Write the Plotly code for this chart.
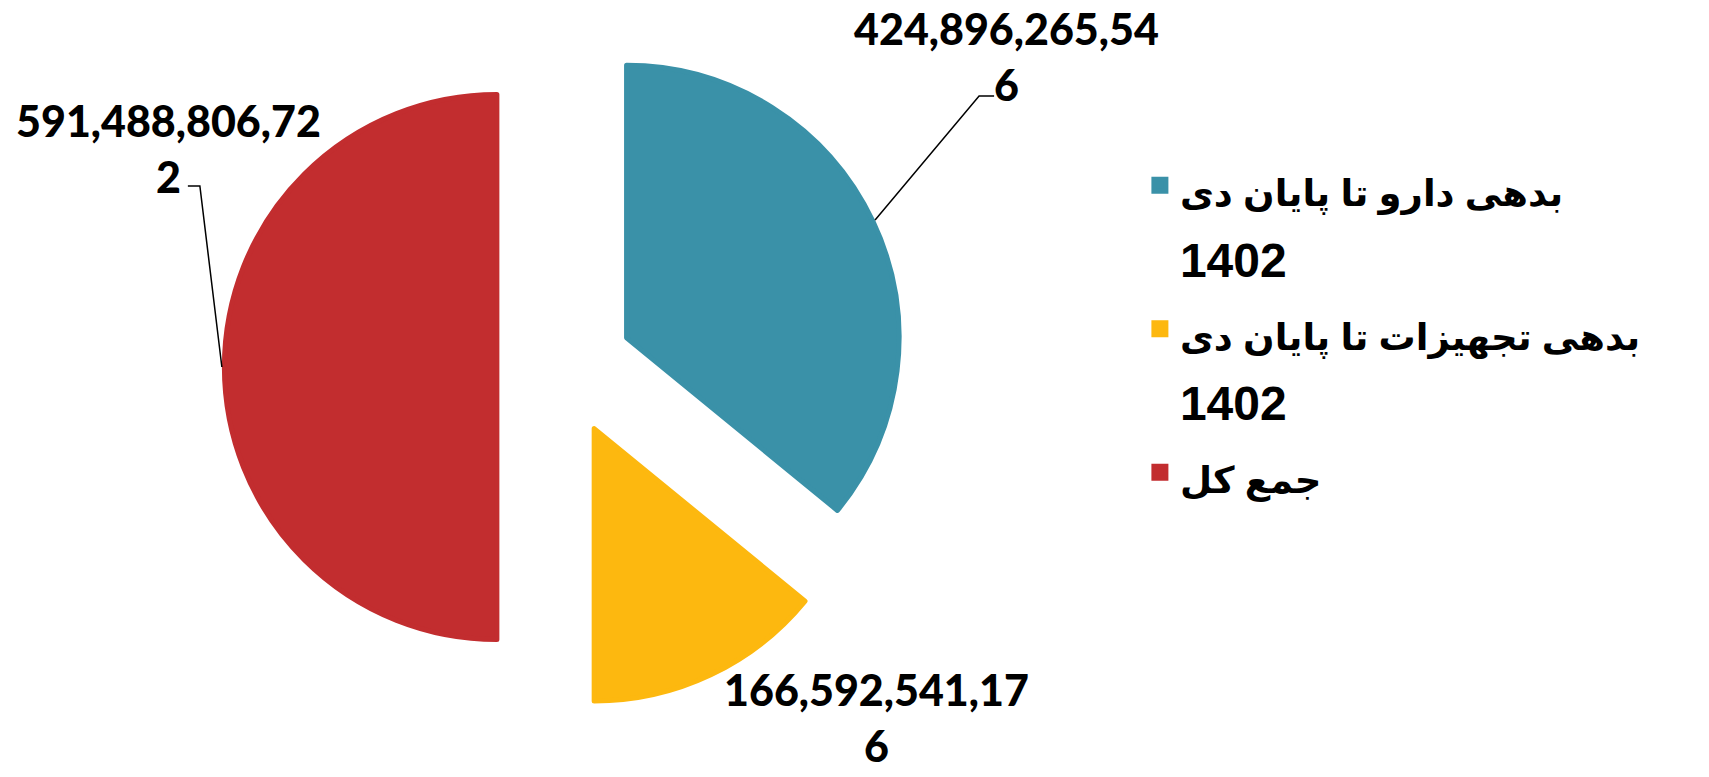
import math
import plotly.graph_objects as go

# ---- data ----
names = ["بدهی دارو تا پایان دی", "بدهی تجهیزات تا پایان دی", "جمع کل"]
years = ["1402", "1402", ""]
values = [424896265546, 166592541176, 591488806722]
value_text = ["424,896,265,54<br>6", "166,592,541,17<br>6", "591,488,806,72<br>2"]
colors = ["#3A91A8", "#FDB80F", "#C22D2F"]

W, H = 1709, 777
PULL = 0.25
EDGE = 5            # slice outline (same colour as fill) -> also enlarges legend squares
R_VIS = 275         # visible radius in px
CX, CY = 565, 367   # pie centre in px (from top-left)
r = R_VIS - EDGE / 2
half = r * (1 + PULL)
DOM_X = [(CX - half - 60) / W, (CX + half + 60) / W]
DOM_Y = [1 - (CY + half) / H, 1 - (CY - half) / H]

legend_labels = []
for n, y in zip(names, years):
    lab = f'<span style="font-size:37px">{n}</span>'
    if y:
        lab += f'<br><span style="font-size:48px">{y}</span>'
    legend_labels.append(lab)

fig = go.Figure(go.Pie(
    labels=legend_labels, values=values, sort=False, direction="clockwise", rotation=0,
    pull=PULL, textinfo="none", hoverinfo="label+value",
    marker=dict(colors=colors, line=dict(width=EDGE, color=colors)),
    domain=dict(x=DOM_X, y=DOM_Y),
))

total = sum(values)

def arc_mid(i):
    start = sum(values[:i])
    th = 2 * math.pi * (start + values[i] / 2) / total
    d = r * PULL + R_VIS
    return CX + d * math.sin(th), CY - d * math.cos(th)

def px(x, y):
    return x / W, 1 - y / H

shapes = []
annotations = []
# label placement: offset of text centre from arc midpoint, leader elbow offsets
label_cfg = [
    dict(text_off=(131, -164), leader=[(104, -124), (119, -124)]),
    dict(text_off=(165, 40), leader=None),
    dict(text_off=(-53, -219), leader=[(-22, -181), (-34, -181)]),
]
for i, cfg in enumerate(label_cfg):
    mx, my = arc_mid(i)
    tx, ty = mx + cfg["text_off"][0], my + cfg["text_off"][1]
    ax_, ay_ = px(tx, ty)
    annotations.append(dict(
        x=ax_, y=ay_, xref="paper", yref="paper", showarrow=False,
        text=value_text[i], align="center", xanchor="center", yanchor="middle",
        font=dict(family="Lato, Roboto, sans-serif", size=43, color="#000000", weight=900),
    ))
    if cfg["leader"]:
        pts = [(mx, my)] + [(mx + dx, my + dy) for dx, dy in cfg["leader"]]
        path = "M " + " L ".join(f"{px(x, y)[0]},{px(x, y)[1]}" for x, y in pts)
        shapes.append(dict(type="path", xref="paper", yref="paper", path=path,
                           line=dict(color="#000000", width=1.5)))

fig.update_layout(
    width=W, height=H,
    margin=dict(l=0, r=0, t=0, b=0, autoexpand=False),
    paper_bgcolor="white", plot_bgcolor="white",
    showlegend=True,
    legend=dict(
        x=0.667, y=0.815, xanchor="left", yanchor="top", valign="top",
        font=dict(family="Liberation Sans, DejaVu Sans, sans-serif", size=54, color="#000000", weight="bold"),
        itemwidth=30, tracegroupgap=0,
    ),
    annotations=annotations,
    shapes=shapes,
)

fig.write_html(
    "out.html",
    config={"displayModeBar": False},
    post_script="document.body.style.margin='0';document.body.style.overflow='hidden';",
)
